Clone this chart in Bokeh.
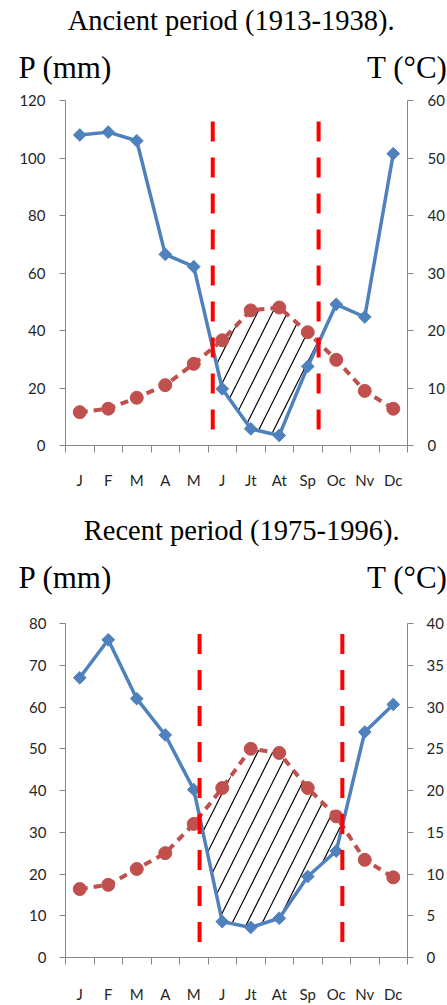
import math
from bokeh.plotting import figure
from bokeh.models import Range1d, LinearAxis, FixedTicker
from bokeh.layouts import column
from bokeh.embed import file_html
from bokeh.resources import INLINE

# ---------------- data ----------------
months = ["J", "F", "M", "A", "M", "J", "Jt", "At", "Sp", "Oc", "Nv", "Dc"]

ancient_title = "Ancient period (1913-1938)."
ancient_p = [108, 109, 106, 66.5, 62.2, 19.7, 5.8, 3.5, 27.5, 49.1, 44.7, 101.5]
ancient_t = [5.8, 6.4, 8.3, 10.5, 14.2, 18.3, 23.5, 24.0, 19.7, 14.9, 9.5, 6.4]
ancient_p_ticks = [0, 20, 40, 60, 80, 100, 120]
ancient_t_ticks = [0, 10, 20, 30, 40, 50, 60]

recent_title = "Recent period (1975-1996)."
recent_p = [67.0, 76.1, 62.0, 53.3, 40.2, 8.6, 7.2, 9.4, 19.4, 25.5, 54.0, 60.6]
recent_t = [8.2, 8.7, 10.6, 12.5, 16.0, 20.3, 25.0, 24.5, 20.3, 16.9, 11.7, 9.6]
recent_p_ticks = [0, 10, 20, 30, 40, 50, 60, 70, 80]
recent_t_ticks = [0, 5, 10, 15, 20, 25, 30, 35, 40]

p_label = "P (mm)"
t_label = "T (°C)"

BLUE = "#4F81BD"
RED = "#C0504D"
AXIS = "#868686"
TXT = "#262626"
SERIF = "Liberation Serif"
SANS = "Lato"


def style_axis(ax, standoff, tick_out):
    ax.major_tick_out = tick_out
    ax.major_tick_in = 0
    ax.major_tick_line_color = AXIS
    ax.minor_tick_line_color = None
    ax.axis_line_color = AXIS
    ax.major_label_text_font = SANS
    ax.major_label_text_font_size = "15px"
    ax.major_label_text_color = TXT
    ax.major_label_standoff = standoff


def text_axis(ticks, overrides, size, standoff):
    ax = LinearAxis(ticker=FixedTicker(ticks=ticks), major_label_overrides=overrides)
    ax.axis_line_color = None
    ax.major_tick_line_color = None
    ax.minor_tick_line_color = None
    ax.major_tick_out = 0
    ax.major_tick_in = 0
    ax.major_label_text_font = SERIF
    ax.major_label_text_font_size = size
    ax.major_label_text_color = "black"
    ax.major_label_standoff = standoff
    return ax


def make_chart(title, P, T, p_ticks, t_ticks, height, mt, mb, title_x,
               title_standoff, head_standoff, vtop, vbot, ystand, xstand):
    pmax, tmax = p_ticks[-1], t_ticks[-1]
    k = pmax / tmax
    xs = [i + 0.5 for i in range(len(months))]

    p = figure(width=447, height=height, x_range=Range1d(0, 12), y_range=Range1d(0, pmax),
               output_backend="svg", toolbar_location=None,
               min_border_left=65, min_border_right=40, min_border_top=mt, min_border_bottom=mb)
    p.extra_y_ranges = {"T": Range1d(0, tmax)}
    p.outline_line_color = None
    p.xgrid.visible = False
    p.ygrid.visible = False

    # x axis (month labels centred, ticks at month boundaries)
    xa = p.below[0]
    xa.ticker = FixedTicker(ticks=xs, minor_ticks=list(range(13)))
    xa.major_label_overrides = {x: m for x, m in zip(xs, months)}
    style_axis(xa, xstand, 7)
    xa.major_tick_line_color = None
    xa.minor_tick_out = 7
    xa.minor_tick_in = 0
    xa.minor_tick_line_color = AXIS

    # left axis
    ya = p.left[0]
    ya.ticker = FixedTicker(ticks=p_ticks)
    style_axis(ya, ystand, 6)

    # right axis
    ra = LinearAxis(y_range_name="T", ticker=FixedTicker(ticks=t_ticks))
    style_axis(ra, ystand, 6)
    p.add_layout(ra, "right")

    # axis names (P at left edge, T at right edge of the frame), then the title above
    p.add_layout(text_axis([0, 12], {0: p_label, 12: t_label}, "31px", head_standoff), "above")
    p.add_layout(text_axis([title_x], {title_x: title}, "28.5px", title_standoff), "above")

    # dry period: where P < 2T
    diff = [pp - k * tt for pp, tt in zip(P, T)]
    x_start = x_end = None
    y_start = y_end = None
    i_start = i_end = None
    for i in range(len(diff) - 1):
        d0, d1 = diff[i], diff[i + 1]
        if d0 > 0 and d1 <= 0 and x_start is None:
            f = d0 / (d0 - d1)
            x_start = xs[i] + f
            y_start = P[i] + f * (P[i + 1] - P[i])
            i_start = i + 1
        elif d0 < 0 and d1 >= 0 and x_start is not None:
            f = d0 / (d0 - d1)
            x_end = xs[i] + f
            y_end = P[i] + f * (P[i + 1] - P[i])
            i_end = i
    inside = list(range(i_start, i_end + 1))
    hx = [x_start] + [xs[i] for i in inside] + [x_end] + [xs[i] for i in reversed(inside)]
    hy = [y_start] + [k * T[i] for i in inside] + [y_end] + [P[i] for i in reversed(inside)]
    p.patch(hx, hy, fill_color=None, line_color=None, hatch_pattern="/",
            hatch_color="black", hatch_weight=1.2, hatch_scale=30)

    # series
    p.line(xs, P, line_color=BLUE, line_width=3.5)
    p.scatter(xs, P, marker="square", angle=math.pi / 4, size=9,
              fill_color=BLUE, line_color=BLUE)
    p.line(xs, T, y_range_name="T", line_color=RED, line_width=4, line_dash="8 6")
    p.scatter(xs, T, y_range_name="T", marker="circle", size=13,
              fill_color=RED, line_color=RED)

    # dry period limits
    for xv in (x_start, x_end):
        p.line([xv, xv], [vtop, vbot], line_color="#FF0000", line_width=4, line_dash="20 16")
    return p


top = make_chart(ancient_title, ancient_p, ancient_t, ancient_p_ticks, ancient_t_ticks,
                 height=500, mt=100, mb=55, title_x=5.81, title_standoff=11, head_standoff=16,
                 vtop=112.7, vbot=5.2, ystand=14, xstand=18)
bottom = make_chart(recent_title, recent_p, recent_t, recent_p_ticks, recent_t_ticks,
                    height=505, mt=123, mb=46, title_x=6.18, title_standoff=11, head_standoff=29,
                    vtop=77.5, vbot=3.3, ystand=13, xstand=20)

layout = column(top, bottom, spacing=0)
open("out.html", "w").write(file_html(layout, INLINE))
